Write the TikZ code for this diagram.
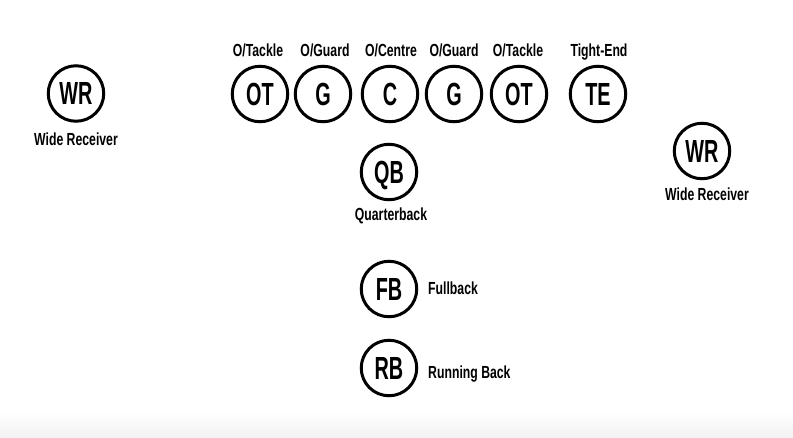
\documentclass[tikz,border=0pt]{standalone}
\usepackage{fontspec}
\newfontfamily\circfont[FakeStretch=0.62]{Liberation Sans}
\newfontfamily\labfont[FakeStretch=0.70]{Liberation Sans}
\begin{document}
\begin{tikzpicture}[x=1pt,y=-1pt,
  player/.style={draw=black, line width=3pt, circle, minimum size=55.5pt, inner sep=0pt,
    font=\circfont\bfseries\fontsize{32}{32}\selectfont, text height=22.9pt, text depth=0pt},
  lab/.style={font=\labfont\bfseries\fontsize{17.5}{18}\selectfont, inner sep=0pt, anchor=base}]
\useasboundingbox (0,0) rectangle (793,437);
\shade[top color=white, bottom color=black!5] (0,412) rectangle (793,437);
% players
\node[player] (wrl) at (76,93.5) {WR};
\node[player] (ot1) at (260,94) {OT};
\node[player] (g1) at (323,94) {G};
\node[player] (c) at (390,94) {C};
\node[player] (g2) at (454,94) {G};
\node[player] (ot2) at (519,94) {OT};
\node[player] (te) at (598,94) {TE};
\node[player] (wrr) at (702,151) {WR};
\node[player] (qb) at (389,172) {QB};
\node[player] (fb) at (389,289) {FB};
\node[player] (rb) at (389,368) {RB};
% labels
\node[lab] (lwrl) at (76,145) {Wide Receiver};
\node[lab] (lot1) at (258,56) {O/Tackle};
\node[lab] (lg1) at (325,56) {O/Guard};
\node[lab] (lc) at (391,56) {O/Centre};
\node[lab] (lg2) at (454,56) {O/Guard};
\node[lab] (lot2) at (518,56) {O/Tackle};
\node[lab] (lte) at (599,56) {Tight-End};
\node[lab] (lwrr) at (707,200) {Wide Receiver};
\node[lab] (lqb) at (391,220) {Quarterback};
\node[lab, anchor=base west] (lfb) at (428,294) {Fullback};
\node[lab, anchor=base west] (lrb) at (428,378) {Running Back};
\end{tikzpicture}
\end{document}
